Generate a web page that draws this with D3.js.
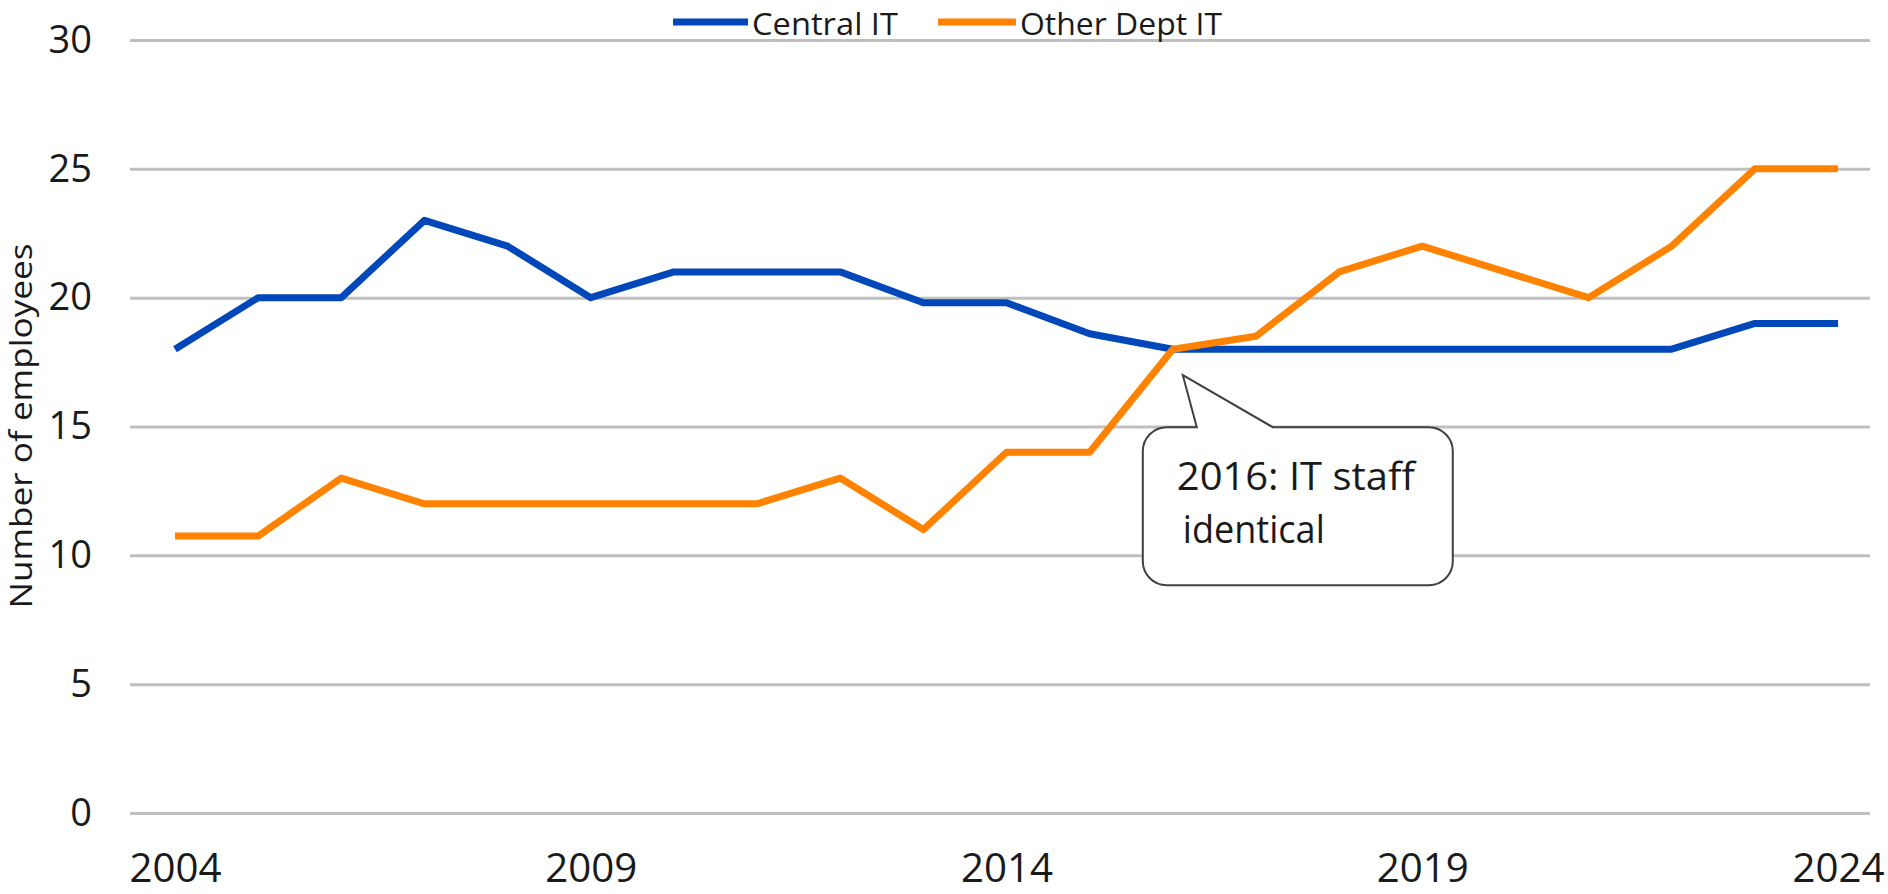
<!DOCTYPE html>
<html>
<head>
<meta charset="utf-8">
<script src="https://cdn.jsdelivr.net/npm/d3@7"></script>
<style>
  html, body { margin: 0; padding: 0; background: #fff; }
  text { font-family: "Open Sans", "Noto Sans", sans-serif; fill: #1a1a1a; }
</style>
</head>
<body>
<div id="chart"></div>
<script>

// ==== data ====

const years = [2004, 2005, 2006, 2007, 2008, 2009, 2010, 2011, 2012, 2013, 2014,
               2015, 2016, 2017, 2018, 2019, 2020, 2021, 2022, 2023, 2024];

const centralIT = [18, 20, 20, 23, 22, 20, 21, 21, 21, 19.8, 19.8,
                   18.6, 18, 18, 18, 18, 18, 18, 18, 19, 19];

const otherDeptIT = [10.75, 10.75, 13, 12, 12, 12, 12, 12, 13, 11, 14,
                     14, 18, 18.5, 21, 22, 21, 20, 22, 25, 25];

const xTicks = [2004, 2009, 2014, 2019, 2024];
const yTicks = [0, 5, 10, 15, 20, 25, 30];

const seriesNames  = ["Central IT", "Other Dept IT"];
const seriesColors = ["#0047BA", "#FF8200"];

const yTitle = "Number of employees";
const noteLines = ["2016: IT staff", "identical"];
const noteYear = 2016, noteValue = 18;

// ==== layout ====

const W = 1888, H = 894;
const margin = { top: 40, right: 18, bottom: 81, left: 130 };
const width  = W - margin.left - margin.right;
const height = H - margin.top - margin.bottom;

const root = d3.select("#chart")
  .append("svg")
    .attr("width", W)
    .attr("height", H);

const svg = root.append("g")
    .attr("transform", `translate(${margin.left},${margin.top})`);

// ==== scales ====

const x = d3.scaleLinear()
  .domain([years[0], years[years.length - 1]])
  .range([45, 1708]);

const y = d3.scaleLinear()
  .domain([0, 30])
  .range([height, 0]);

// ==== gridlines + y labels ====

const yAxis = svg.append("g")
  .call(d3.axisLeft(y)
    .tickValues(yTicks)
    .tickSize(-width)
    .tickPadding(38));

yAxis.select(".domain").remove();
yAxis.selectAll("line")
  .attr("stroke", "#bfbfbf")
  .attr("stroke-width", 3);
yAxis.selectAll("text")
  .attr("fill", "#1a1a1a")
  .style("font-size", "38px")
  .style("font-family", "'Open Sans', sans-serif");

// ==== x labels ====

const xAxis = svg.append("g")
  .attr("transform", `translate(0,${height})`)
  .call(d3.axisBottom(x)
    .tickValues(xTicks)
    .tickSize(0)
    .tickFormat(d3.format("d")));

xAxis.select(".domain").remove();
xAxis.selectAll("text")
  .attr("y", 69)
  .attr("dy", 0)
  .attr("fill", "#1a1a1a")
  .attr("textLength", 92)
  .attr("lengthAdjust", "spacingAndGlyphs")
  .style("font-size", "41px")
  .style("font-family", "'Open Sans', sans-serif");

// y axis title
root.append("text")
  .attr("transform", "rotate(-90)")
  .attr("x", -426)
  .attr("y", 32)
  .attr("text-anchor", "middle")
  .attr("textLength", 365)
  .attr("lengthAdjust", "spacingAndGlyphs")
  .style("font-size", "31px")
  .text(yTitle);

// ==== lines ====

const line = d3.line()
  .x(d => x(d.year))
  .y(d => y(d.value));

const series = [centralIT, otherDeptIT].map((vals, i) => ({
  name: seriesNames[i],
  color: seriesColors[i],
  values: years.map((yr, j) => ({ year: yr, value: vals[j] }))
}));

svg.append("g")
  .selectAll("path")
  .data(series)
  .enter()
  .append("path")
    .attr("d", d => line(d.values))
    .attr("fill", "none")
    .attr("stroke", d => d.color)
    .attr("stroke-width", 7)
    .attr("stroke-linejoin", "round");

// ==== callout ====

const tipX = x(noteYear) + 10;
const tipY = y(noteValue) + 26;
const bx = tipX - 40, by = tipY + 52, bw = 310, bh = 158, r = 24;

const bubble = d3.path();
bubble.moveTo(bx + r, by);
bubble.lineTo(tipX + 14, by);
bubble.lineTo(tipX, tipY);
bubble.lineTo(tipX + 90, by);
bubble.lineTo(bx + bw - r, by);
bubble.arcTo(bx + bw, by, bx + bw, by + r, r);
bubble.lineTo(bx + bw, by + bh - r);
bubble.arcTo(bx + bw, by + bh, bx + bw - r, by + bh, r);
bubble.lineTo(bx + r, by + bh);
bubble.arcTo(bx, by + bh, bx, by + bh - r, r);
bubble.lineTo(bx, by + r);
bubble.arcTo(bx, by, bx + r, by, r);
bubble.closePath();

svg.append("path")
  .attr("d", bubble.toString())
  .attr("fill", "#fff")
  .attr("stroke", "#404040")
  .attr("stroke-width", 2);

svg.append("text")
  .attr("x", bx + 34)
  .attr("y", by + 63)
  .attr("textLength", 238)
  .attr("lengthAdjust", "spacingAndGlyphs")
  .style("font-size", "38px")
  .text(noteLines[0]);

svg.append("text")
  .attr("x", bx + 40)
  .attr("y", by + 116)
  .attr("textLength", 142)
  .attr("lengthAdjust", "spacingAndGlyphs")
  .style("font-size", "38px")
  .text(noteLines[1]);

// ==== legend ====

const legendItems = [
  { x1: 673, x2: 748, tx: 752, tl: 146 },
  { x1: 938, x2: 1016, tx: 1020, tl: 202 }
];

const legend = root.append("g")
  .selectAll("g")
  .data(series)
  .enter()
  .append("g");

legend.append("line")
  .attr("x1", (d, i) => legendItems[i].x1)
  .attr("x2", (d, i) => legendItems[i].x2)
  .attr("y1", 22).attr("y2", 22)
  .attr("stroke", d => d.color)
  .attr("stroke-width", 7);

legend.append("text")
  .attr("x", (d, i) => legendItems[i].tx)
  .attr("y", 35)
  .attr("textLength", (d, i) => legendItems[i].tl)
  .attr("lengthAdjust", "spacingAndGlyphs")
  .style("font-size", "31px")
  .text(d => d.name);

</script>
</body>
</html>
